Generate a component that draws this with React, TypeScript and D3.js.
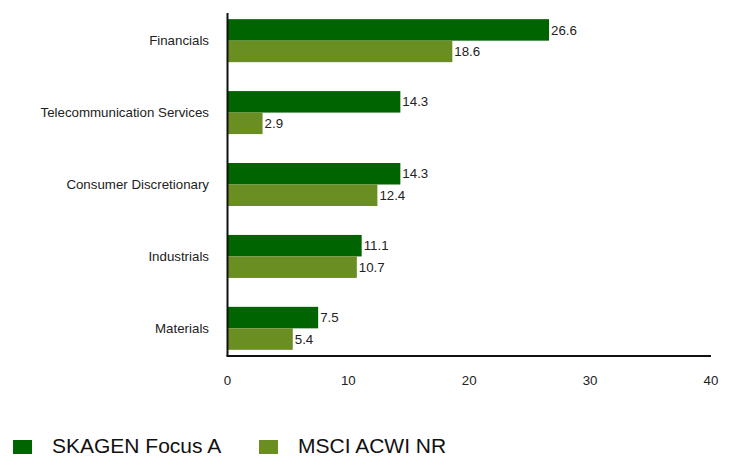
import React from 'react';
import * as d3 from 'd3';

const CATEGORIES = ['Financials', 'Telecommunication Services', 'Consumer Discretionary', 'Industrials', 'Materials'];
const FUND = [26.6, 14.3, 14.3, 11.1, 7.5];
const INDEX = [18.6, 2.9, 12.4, 10.7, 5.4];
const SERIES = ['SKAGEN Focus A', 'MSCI ACWI NR'];
const COLORS = ['#006400', '#6b8e23'];
const X_TICKS = [0, 10, 20, 30, 40];

const W = 732;
const H = 458;
const FONT = "'Liberation Sans', Arial, sans-serif";

const App: React.FC = () => {
  const svgRef = React.useRef<SVGSVGElement>(null);

  React.useEffect(() => {
    const svg = d3.select(svgRef.current);
    svg.selectAll('*').remove();

    const x = d3.scaleLinear().domain([0, 40]).range([227.5, 711]);
    const y = d3.scaleBand<string>().domain(CATEGORIES).range([4.7, 364.3]);
    const barH = 21.5;
    const values = [FUND, INDEX];

    // bars
    values.forEach((vals, si) => {
      const g = svg.append('g');
      CATEGORIES.forEach((c, i) => {
        const mid = (y(c) ?? 0) + y.bandwidth() / 2;
        const top = si === 0 ? mid - barH : mid;
        g.append('rect')
          .attr('x', x(0))
          .attr('y', top)
          .attr('width', x(vals[i]) - x(0))
          .attr('height', barH)
          .attr('fill', COLORS[si]);
        g.append('text')
          .attr('x', x(vals[i]) + 2)
          .attr('y', top + barH / 2)
          .attr('dy', '0.35em')
          .attr('font-family', FONT)
          .attr('font-size', 13.3)
          .attr('fill', '#222')
          .text(vals[i].toFixed(1));
      });
    });

    // category labels
    CATEGORIES.forEach(c => {
      svg.append('text')
        .attr('x', 209)
        .attr('y', (y(c) ?? 0) + y.bandwidth() / 2)
        .attr('dy', '0.35em')
        .attr('text-anchor', 'end')
        .attr('font-family', FONT)
        .attr('font-size', 13.3)
        .attr('fill', '#222')
        .text(c);
    });

    // axes
    svg.append('line')
      .attr('x1', x(0)).attr('x2', x(0))
      .attr('y1', 13).attr('y2', 356)
      .attr('stroke', '#111').attr('stroke-width', 2);
    svg.append('line')
      .attr('x1', x(0) - 1).attr('x2', x(40))
      .attr('y1', 356).attr('y2', 356)
      .attr('stroke', '#111').attr('stroke-width', 2);

    X_TICKS.forEach(t => {
      svg.append('text')
        .attr('x', x(t))
        .attr('y', 380)
        .attr('dy', '0.35em')
        .attr('text-anchor', 'middle')
        .attr('font-family', FONT)
        .attr('font-size', 13.3)
        .attr('fill', '#222')
        .text(t);
    });

    // legend
    const legendX = [13, 259];
    SERIES.forEach((s, i) => {
      svg.append('rect')
        .attr('x', legendX[i])
        .attr('y', 440)
        .attr('width', 19)
        .attr('height', 14)
        .attr('fill', COLORS[i]);
      svg.append('text')
        .attr('x', legendX[i] + 39)
        .attr('y', 453)
        .attr('font-family', FONT)
        .attr('font-size', 21)
        .attr('fill', '#111')
        .text(s);
    });
  }, []);

  return (
    <svg
      ref={svgRef}
      width={W}
      height={H}
      style={{ position: 'absolute', left: 0, top: 0, background: '#fff' }}
    />
  );
};

export default App;
